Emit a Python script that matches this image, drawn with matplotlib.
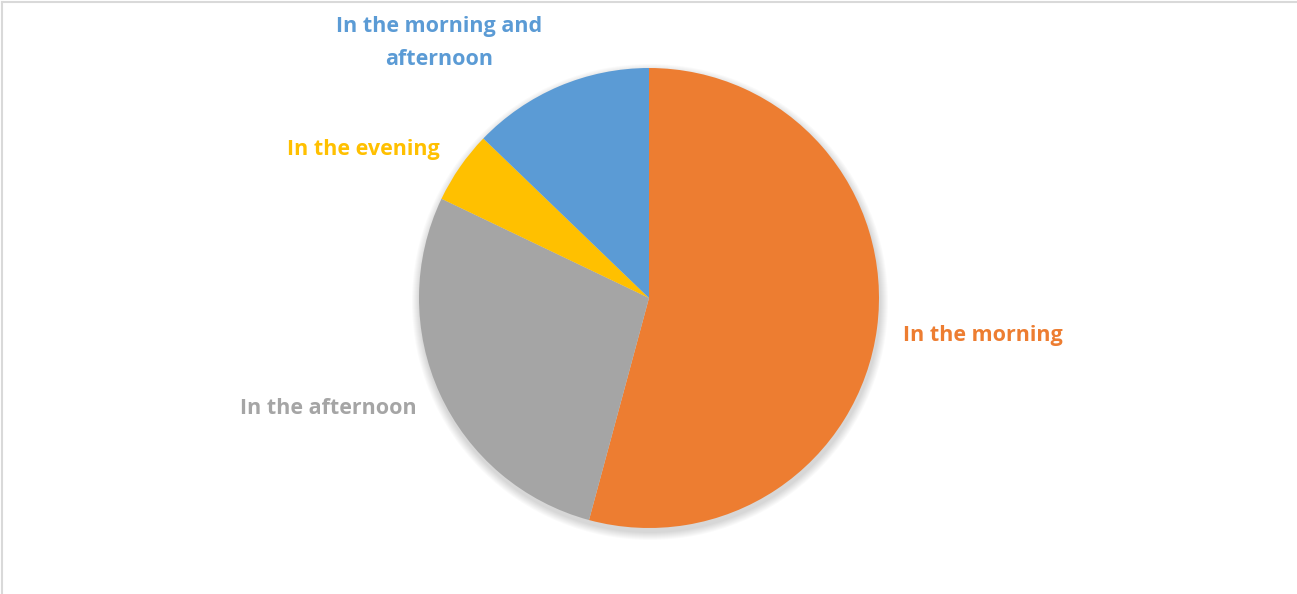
import matplotlib.pyplot as plt
from matplotlib.patches import Circle

# share of answers for each time of day
labels = ['In the morning', 'In the afternoon', 'In the evening',
          'In the morning and\nafternoon']
shares = [54.2, 27.9, 5.1, 12.8]
colors = ['#ED7D31', '#A5A5A5', '#FFC000', '#5B9BD5']

W, H = 1297, 594
cx, cy, r = 649, H - 298, 230

fig = plt.figure(figsize=(W / 100, H / 100), dpi=100)
ax = fig.add_axes([0, 0, 1, 1])

# soft drop shadow under the pie
for i in range(8):
    ax.add_patch(Circle((cx + 1, cy - 4), r + 8 - i, color='black',
                        alpha=0.018, lw=0, zorder=0))

wedges, _ = ax.pie(shares, colors=colors, startangle=90, counterclock=False,
                   center=(cx, cy), radius=r, frame=True,
                   wedgeprops=dict(linewidth=0))
ax.set_xlim(0, W)
ax.set_ylim(0, H)
ax.axis('off')

# labels outside the slices
label_pos = [(983, H - 336), (328, H - 408), (363, H - 149), (439, H - 43)]
for (x, y), text, c in zip(label_pos, labels, colors):
    ax.text(x, y, text, color=c, fontsize=15.5, fontweight='bold',
            family='Open Sans', ha='center', va='center', linespacing=1.72)

# chart area border
ax.plot([2, 2], [0, H - 2], color='#D9D9D9', lw=1.5)
ax.plot([2, W], [H - 2, H - 2], color='#D9D9D9', lw=1.5)

fig.savefig('out.png', dpi=100)
